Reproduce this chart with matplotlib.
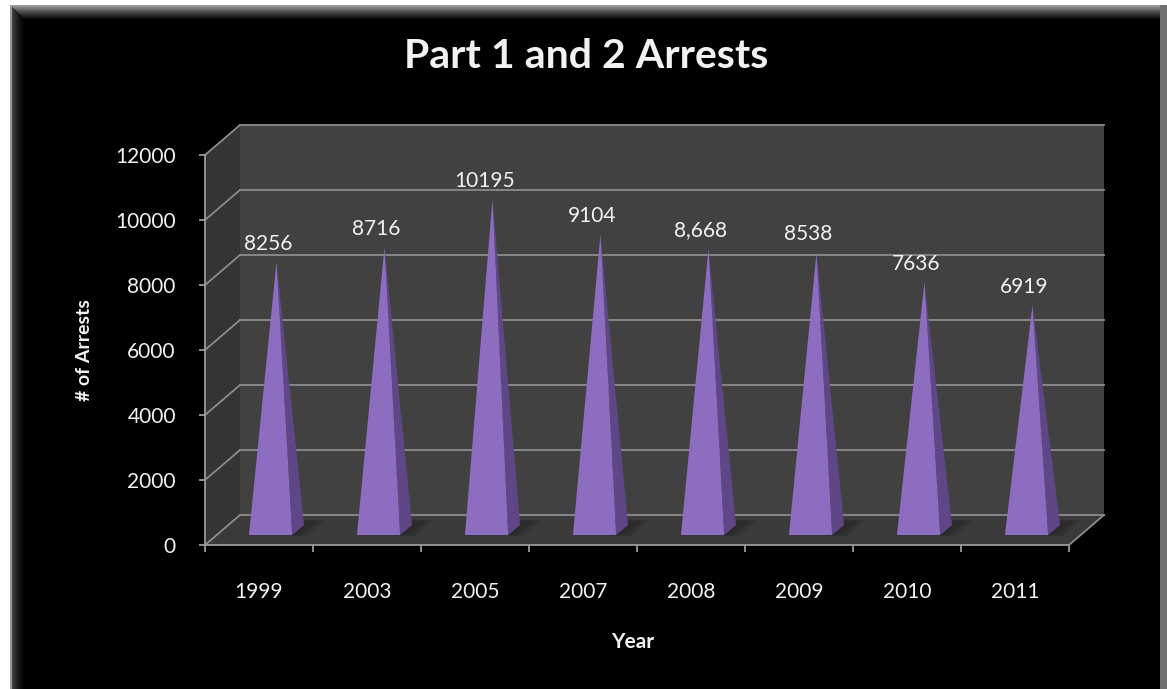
import numpy as np
import matplotlib
matplotlib.use("Agg")
import matplotlib.pyplot as plt
from matplotlib.patches import Polygon, Rectangle

plt.rcParams['font.family'] = ['Lato', 'DejaVu Sans']

# ---- datos ----
years = ["1999", "2003", "2005", "2007", "2008", "2009", "2010", "2011"]
arrests = [8256, 8716, 10195, 9104, 8668, 8538, 7636, 6919]
value_labels = ["8256", "8716", "10195", "9104", "8,668", "8538", "7636", "6919"]
y_ticks = [0, 2000, 4000, 6000, 8000, 10000, 12000]

TITLE = "Part 1 and 2 Arrests"
YLABEL = "# of Arrests"
XLABEL = "Year"

# colores
WALL_BACK = "#414141"
WALL_SIDE = "#343434"
FLOOR = "#3a3a3a"
GRID = "#8c8c8c"
AXIS = "#9a9a9a"
PYR_FRONT = "#8d6dc0"
PYR_SIDE = "#5f4787"
TEXT = "#f2f2f2"

W, H = 1167, 689
fig = plt.figure(figsize=(W / 100, H / 100), dpi=100, facecolor="white")

# ---- marco negro con bisel gris ----
bg = fig.add_axes([0, 0, 1, 1])
bg.set_xlim(0, W)
bg.set_ylim(H, 0)
bg.axis("off")
bg.add_patch(Rectangle((10, 5), 1157, 684, color="#707070", lw=0))
bg.add_patch(Rectangle((10, 5), 1150, 684, color="black", lw=0))
# bisel superior (degradado claro -> negro)
steps = 15
for k in range(steps):
    g = 0.62 * (1 - k / steps) ** 1.3
    bg.add_patch(Rectangle((10, 5 + k), 1150, 1.05, color=(g, g, g), lw=0))
# bisel izquierdo
for k in range(steps):
    g = 0.30 * (1 - k / steps) ** 1.5
    bg.add_patch(Rectangle((10 + k, 5 + k), 1.05, 684 - k, color=(g, g, g), lw=0))
bg.add_patch(Rectangle((10, 5), 1.5, 684, color="#9a9a9a", lw=0))

# ---- ejes principales (plano frontal) ----
ax = fig.add_axes([205 / W, 1 - 545 / H, 864 / W, 390 / H])
ax.set_facecolor("none")
n = len(years)
ymax = y_ticks[-1]
ax.set_xlim(0, n)
ax.set_ylim(0, ymax)

# profundidad 3D en unidades de datos
DX = 35 / 108
DY = 30 / 390 * ymax

def depth(x, y, f):
    return (x + f * DX, y + f * DY)

# paredes y piso
back = [depth(0, 0, 1), depth(n, 0, 1), depth(n, ymax, 1), depth(0, ymax, 1)]
side = [(0, 0), depth(0, 0, 1), depth(0, ymax, 1), (0, ymax)]
floor = [(0, 0), (n, 0), depth(n, 0, 1), depth(0, 0, 1)]
ax.add_patch(Polygon(back, closed=True, color=WALL_BACK, lw=0, clip_on=False, zorder=1))
ax.add_patch(Polygon(side, closed=True, color=WALL_SIDE, lw=0, clip_on=False, zorder=1))
ax.add_patch(Polygon(floor, closed=True, color=FLOOR, lw=0, clip_on=False, zorder=1))

# lineas de cuadricula
for v in y_ticks:
    x0, y0 = depth(0, v, 1)
    x1, y1 = depth(n, v, 1)
    ax.plot([0, x0], [v, y0], color=GRID, lw=1.3, clip_on=False, zorder=2)
    ax.plot([x0, x1], [y0, y1], color=GRID, lw=1.3, clip_on=False, zorder=2)
# borde derecho del piso
fx0, fy0 = depth(n, 0, 1)
ax.plot([n, fx0], [0, fy0], color=GRID, lw=1.3, clip_on=False, zorder=2)

# piramides
hw = 0.2
f_front, f_back, f_mid = 0.33, 0.67, 0.5
for i, val in enumerate(arrests):
    c = i + 0.5
    fl = depth(c - hw, 0, f_front)
    fr = depth(c + hw, 0, f_front)
    br = depth(c + hw, 0, f_back)
    apex = depth(c, val, f_mid)
    # sombra difusa en el piso
    for a, grow in [(0.25, 0.14), (0.35, 0.08)]:
        sh = [depth(c - hw, 0, f_front - 0.02), depth(c + hw + grow, 0, f_front - 0.02),
              depth(c + hw + grow, 0, f_back + 0.15), depth(c - hw, 0, f_back + 0.15)]
        ax.add_patch(Polygon(sh, closed=True, color="#1e1e1e", alpha=a, lw=0,
                             clip_on=False, zorder=3))
    ax.add_patch(Polygon([fr, br, apex], closed=True, color=PYR_SIDE, lw=0,
                         clip_on=False, zorder=4))
    ax.add_patch(Polygon([fl, fr, apex], closed=True, color=PYR_FRONT, lw=0,
                         clip_on=False, zorder=5))
    ax.annotate(value_labels[i], xy=apex, xytext=(-6, 13), textcoords="offset points",
                ha="center", va="center", color=TEXT, fontsize=15, zorder=6,
                annotation_clip=False)

# ejes
for s in ["top", "right"]:
    ax.spines[s].set_visible(False)
for s in ["left", "bottom"]:
    ax.spines[s].set_color(AXIS)
    ax.spines[s].set_linewidth(1.3)
    ax.spines[s].set_zorder(7)

ax.set_yticks(y_ticks)
ax.set_yticklabels([str(v) for v in y_ticks])
ax.tick_params(axis="y", colors=AXIS, labelcolor=TEXT, labelsize=15,
               length=4, width=1.3, pad=17)

ax.set_xticks(range(n + 1))
ax.set_xticklabels([])
ax.set_xticks([i + 0.5 for i in range(n)], minor=True)
ax.set_xticklabels(years, minor=True)
ax.tick_params(axis="x", which="major", colors=AXIS, length=5, width=1.3)
ax.tick_params(axis="x", which="minor", length=0, labelcolor=TEXT, labelsize=15, pad=27)

# titulos
fig.text(586 / W, 1 - 56 / H, TITLE, ha="center", va="center", color=TEXT,
         fontsize=29.5, fontweight="bold")
fig.text(85 / W, 1 - 350 / H, YLABEL, ha="center", va="center", color=TEXT,
         fontsize=14, fontweight="bold", rotation=90)
fig.text(633 / W, 1 - 642 / H, XLABEL, ha="center", va="center", color=TEXT,
         fontsize=15, fontweight="bold")

fig.savefig("out.png", dpi=100, facecolor=fig.get_facecolor())
